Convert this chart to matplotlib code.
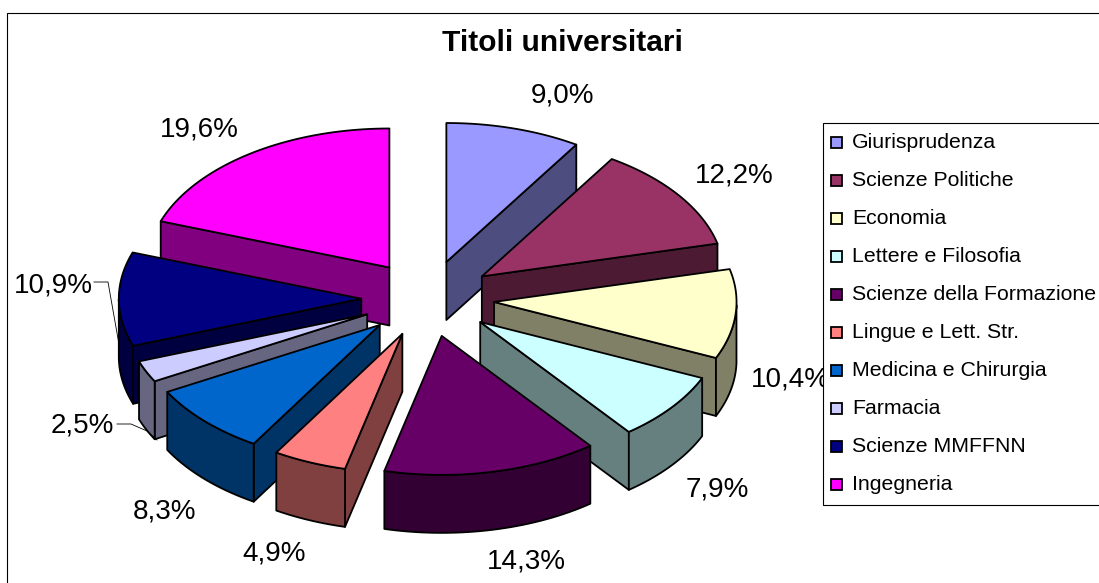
import numpy as np
import matplotlib
matplotlib.use("Agg")
import matplotlib.pyplot as plt
from matplotlib.patches import Polygon, Rectangle
from matplotlib.colors import to_rgb

TITLE = "Titoli universitari"
categories = ["Giurisprudenza", "Scienze Politiche", "Economia", "Lettere e Filosofia",
              "Scienze della Formazione", "Lingue e Lett. Str.", "Medicina e Chirurgia",
              "Farmacia", "Scienze MMFFNN", "Ingegneria"]
values = [9.0, 12.2, 10.4, 7.9, 14.3, 4.9, 8.3, 2.5, 10.9, 19.6]
colors = ["#9999FF", "#993366", "#FFFFCC", "#CCFFFF", "#660066",
          "#FF8080", "#0066CC", "#CCCCFF", "#000080", "#FF00FF"]
label_xy = [(563, 96), (734, 175), (790, 380), (717, 490), (526, 561),
            (274, 553), (165, 512), (82, 426), (53, 285), (199, 129)]

W, H = 1099, 583
CX, CY, A, B, EXPLODE, DEPTH = 427.8, 298.6, 242.5, 139, 66.5, 58
plt.rcParams['font.family'] = ['Liberation Sans', 'DejaVu Sans']

fig = plt.figure(figsize=(W / 100, H / 100), dpi=100)
ax = fig.add_axes([0, 0, 1, 1])
ax.set_xlim(0, W)
ax.set_ylim(H, 0)
ax.axis("off")
ax.add_patch(Rectangle((6.5, 12.5), W + 20, H + 20, fc="white", ec="black", lw=0.8, zorder=0))

fracs = np.array(values) / sum(values)
edges = np.concatenate([[0], np.cumsum(fracs)]) * 2 * np.pi


def shade(c):
    return tuple(v * 0.5 for v in to_rgb(c))


wedges = []
for i, col in enumerate(colors):
    t0, t1 = edges[i], edges[i + 1]
    mid = (t0 + t1) / 2
    apex = np.array([CX + EXPLODE * np.sin(mid), CY - EXPLODE * B / A * np.cos(mid)])
    th = np.linspace(t0, t1, max(int((t1 - t0) * 40), 6))
    rim = np.column_stack([apex[0] + A * np.sin(th), apex[1] - B * np.cos(th)])
    wedges.append(dict(apex=apex, th=th, rim=rim, col=col, mid=mid))

down = np.array([0, DEPTH])


def wall(pts, col, z):
    poly = np.vstack([pts, (pts + down)[::-1]])
    ax.add_patch(Polygon(poly, closed=True, fc=shade(col), ec="black", lw=1.3, joinstyle="round", zorder=z))


def faces_viewer(apex, end, other):
    # the cut face is seen only if its outward side points down the screen
    d = end - apex
    n = np.array([-d[1], d[0]])
    if np.dot(n, other - apex) > 0:
        n = -n
    return n[1] > 0


for order, w in enumerate(sorted(wedges, key=lambda d: d["apex"][1] - 0.2 * B * np.cos(d["mid"]))):
    z = 2 + order
    apex, rim, th, col = w["apex"], w["rim"], w["th"], w["col"]
    if faces_viewer(apex, rim[0], rim[-1]):
        wall(np.vstack([apex, rim[0]]), col, z)
    if faces_viewer(apex, rim[-1], rim[0]):
        wall(np.vstack([apex, rim[-1]]), col, z)
    front = np.cos(th) < 0
    if front.any():
        wall(rim[front], col, z)
    ax.add_patch(Polygon(np.vstack([apex, rim]), closed=True, fc=col, ec="black",
                         lw=1.3, joinstyle="round", zorder=z))

TXT = 40
for (x, y), v in zip(label_xy, values):
    ax.text(x, y, f"{v:.1f}%".replace(".", ","), fontsize=20, ha="center", va="center",
            color="black", zorder=TXT)

# leader lines of the two outside labels
ax.plot([94, 108, 120], [282, 282, 350], color="black", lw=0.6, zorder=TXT)
ax.plot([117, 131, 147, 157], [424, 424, 431, 440], color="black", lw=0.6, zorder=TXT)

ax.text(562, 43, TITLE, fontsize=21.5, fontweight="bold", ha="center", va="center", zorder=TXT)

# legend box sits over the labels
ax.add_patch(Rectangle((822.5, 122.5), W, 382, fc="white", ec="black", lw=0.8, zorder=50))
for i, (name, col) in enumerate(zip(categories, colors)):
    y = 142.5 + 38 * i
    ax.add_patch(Rectangle((831, y - 5.5), 11, 11, fc=col, ec="black", lw=1.3, zorder=51))
    ax.text(852, y - 0.5, name, fontsize=15.3, ha="left", va="center", color="black", zorder=51)

fig.savefig("out.png", dpi=100)
